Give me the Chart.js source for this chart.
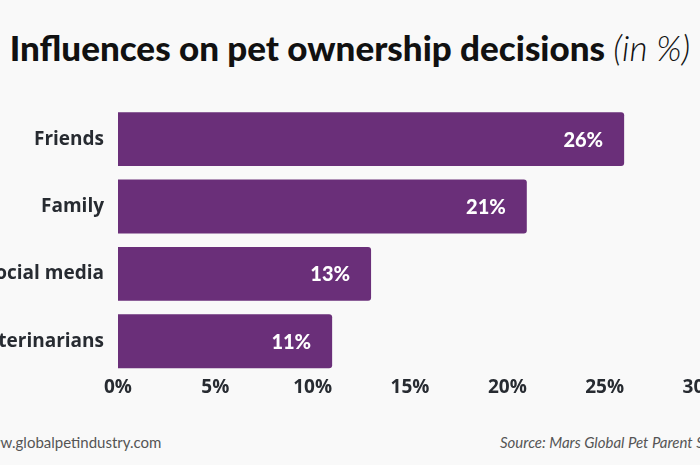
<!DOCTYPE html>
<html>
<head>
<meta charset="utf-8">
<script src="https://cdn.jsdelivr.net/npm/chart.js@4.4.0/dist/chart.umd.min.js"></script>
<style>
    html, body {
        margin: 0;
        padding: 0;
        background: #f9f9f9;
    }
    body {
        width: 700px;
        height: 465px;
        overflow: hidden;
        position: relative;
    }
    .titulo {
        position: absolute;
        top: 26px;
        left: -20px;
        width: 740px;
        text-align: center;
        font-family: 'Lato', sans-serif;
        font-weight: 900;
        font-size: 35px;
        color: #111;
        white-space: nowrap;
    }
    .titulo em {
        font-weight: 300;
    }
    .grafica {
        position: absolute;
        left: -40px;
        top: 80px;
        width: 780px;
        height: 330px;
    }
    .pie {
        position: absolute;
        top: 433px;
        font-family: 'Lato', sans-serif;
        font-size: 15px;
        color: #555;
        white-space: nowrap;
    }
    .pie.izq { left: -23px; }
    .pie.der { left: 500px; font-style: italic; }
</style>
</head>
<body>
<div class="titulo">Influences on pet ownership decisions <em>(in %)</em></div>
<div class="grafica"><canvas id="chartInfluencias"></canvas></div>
<div class="pie izq">www.globalpetindustry.com</div>
<div class="pie der">Source: Mars Global Pet Parent Survey</div>

<script>
const categorias = ['Friends', 'Family', 'Social media', 'Veterinarians'];
const porcentajes = [26, 21, 13, 11];
const ticksX = [0, 5, 10, 15, 20, 25, 30];

// etiquetas blancas dentro de cada barra
const etiquetasBarra = {
    id: 'etiquetasBarra',
    afterDatasetsDraw(chart) {
        const ctx = chart.ctx;
        const meta = chart.getDatasetMeta(0);
        ctx.save();
        ctx.fillStyle = '#ffffff';
        ctx.font = '900 20px Lato';
        ctx.textAlign = 'right';
        ctx.textBaseline = 'middle';
        meta.data.forEach((bar, i) => {
            ctx.fillText(porcentajes[i] + '%', bar.x - 21, bar.y + 1);
        });
        ctx.restore();
    }
};

const ctx = document.getElementById('chartInfluencias').getContext('2d');
new Chart(ctx, {
    type: 'bar',
    data: {
        labels: categorias,
        datasets: [{
            data: porcentajes,
            backgroundColor: '#6a2f79',
            borderRadius: { topRight: 3, bottomRight: 3 },
            borderSkipped: false,
            categoryPercentage: 1,
            barPercentage: 0.8
        }]
    },
    options: {
        indexAxis: 'y',
        responsive: true,
        maintainAspectRatio: false,
        animation: false,
        layout: {
            padding: { top: 14, right: 38, bottom: 0, left: 0 }
        },
        plugins: {
            legend: { display: false },
            tooltip: { enabled: false }
        },
        scales: {
            x: {
                min: 0,
                max: 30,
                afterBuildTicks: (axis) => {
                    axis.ticks = ticksX.map(v => ({ value: v }));
                },
                afterFit: (axis) => { axis.height = 35; },
                grid: { display: false, drawTicks: false },
                border: { display: false },
                ticks: {
                    padding: 1,
                    color: '#272b31',
                    font: { family: 'Open Sans', size: 19, weight: '700' },
                    callback: (v) => v + '%'
                }
            },
            y: {
                afterFit: (axis) => { axis.width = 158; },
                grid: { display: false, drawTicks: false },
                border: { display: false },
                ticks: {
                    padding: 14,
                    color: '#272b31',
                    font: { family: 'Open Sans', size: 19, weight: '700' }
                }
            }
        }
    },
    plugins: [etiquetasBarra]
});
</script>
</body>
</html>
